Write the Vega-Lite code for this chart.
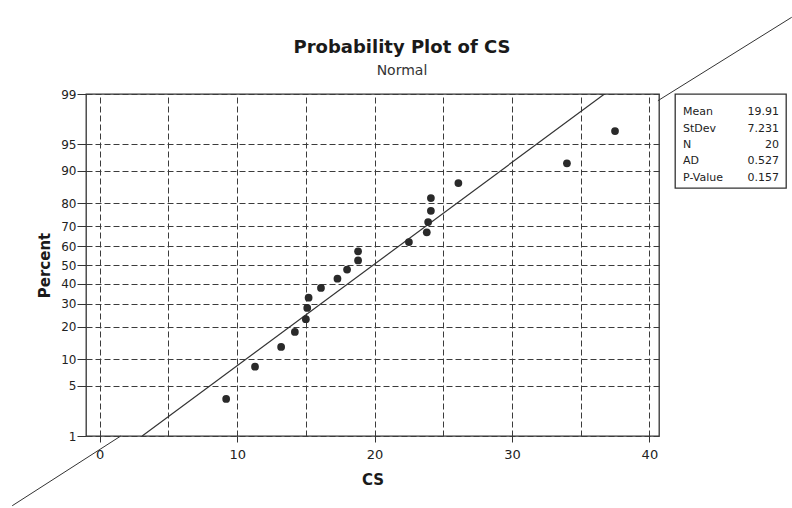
{
  "$schema": "https://vega.github.io/schema/vega-lite/v6.json",
  "background": "white",
  "padding": {"left": 9, "top": 14, "right": 0, "bottom": 0},
  "bounds": "flush",
  "spacing": 16,
  "title": {
    "text": "Probability Plot of CS",
    "subtitle": "Normal",
    "anchor": "middle",
    "offset": -63,
    "font": "DejaVu Sans",
    "fontSize": 18,
    "fontWeight": "bold",
    "color": "#1a1a1a",
    "subtitleFont": "DejaVu Sans",
    "subtitleFontSize": 14,
    "subtitleColor": "#333333",
    "subtitlePadding": 7
  },
  "datasets": {
    "points": [
      {"CS": 9.2, "Percent": 3.43, "Z": -1.8214},
      {"CS": 11.3, "Percent": 8.33, "Z": -1.383},
      {"CS": 13.2, "Percent": 13.24, "Z": -1.1152},
      {"CS": 14.2, "Percent": 18.14, "Z": -0.9104},
      {"CS": 15.0, "Percent": 23.04, "Z": -0.7375},
      {"CS": 15.1, "Percent": 27.94, "Z": -0.5846},
      {"CS": 15.2, "Percent": 32.84, "Z": -0.4443},
      {"CS": 16.1, "Percent": 37.75, "Z": -0.3122},
      {"CS": 17.3, "Percent": 42.65, "Z": -0.1854},
      {"CS": 18.0, "Percent": 47.55, "Z": -0.0615},
      {"CS": 18.8, "Percent": 52.45, "Z": 0.0615},
      {"CS": 18.8, "Percent": 57.35, "Z": 0.1854},
      {"CS": 22.5, "Percent": 62.25, "Z": 0.3122},
      {"CS": 23.8, "Percent": 67.16, "Z": 0.4443},
      {"CS": 23.9, "Percent": 72.06, "Z": 0.5846},
      {"CS": 24.1, "Percent": 76.96, "Z": 0.7375},
      {"CS": 24.1, "Percent": 81.86, "Z": 0.9104},
      {"CS": 26.1, "Percent": 86.76, "Z": 1.1152},
      {"CS": 34.0, "Percent": 91.67, "Z": 1.383},
      {"CS": 37.5, "Percent": 96.57, "Z": 1.8214}
    ],
    "fit": [
      {"CS": 3.088, "Z": -2.3263},
      {"CS": 36.732, "Z": 2.3263}
    ],
    "outline": [
      {"Seg": "a", "CS": -6.37, "Z": -3.275},
      {"Seg": "a", "CS": 1.53, "Z": -2.3263},
      {"Seg": "b", "CS": 40.62, "Z": 2.235},
      {"Seg": "b", "CS": 50.36, "Z": 3.37}
    ],
    "stats": [
      {"Stat": "Mean", "Value": "19.91"},
      {"Stat": "StDev", "Value": "7.231"},
      {"Stat": "N", "Value": "20"},
      {"Stat": "AD", "Value": "0.527"},
      {"Stat": "P-Value", "Value": "0.157"}
    ]
  },
  "hconcat": [
    {
      "width": 573,
      "height": 342,
      "resolve": {"axis": {"x": "independent"}},
      "layer": [
        {
          "data": {"name": "fit"},
          "mark": {"type": "line", "clip": true, "color": "#333333", "strokeWidth": 1.2},
          "encoding": {
            "x": {
              "field": "CS", "type": "quantitative",
              "scale": {"domain": [-1, 40.7], "nice": false, "zero": false},
              "axis": {
                "orient": "top", "values": [0, 5, 10, 15, 20, 25, 30, 35, 40], "tickCount": 20,
                "grid": true, "gridDash": [6, 3], "gridColor": "#3c3c3c", "gridOpacity": 1, "gridWidth": 1,
                "ticks": false, "labels": false, "domain": false, "title": null
              }
            },
            "y": {
              "field": "Z", "type": "quantitative",
              "scale": {"domain": [-2.3263, 2.3263], "nice": false, "zero": false},
              "axis": {
                "values": [-2.3263, -1.6449, -1.2816, -0.8416, -0.5244, -0.2533, 0, 0.2533, 0.5244, 0.8416, 1.2816, 1.6449, 2.3263],
                "tickCount": 20,
                "labelExpr": "round(cumulativeNormal(datum.value) * 100)",
                "grid": true, "gridDash": [6, 3], "gridColor": "#3c3c3c", "gridOpacity": 1, "gridWidth": 1,
                "tickSize": 9, "tickColor": "#333333", "labelPadding": 1, "domain": false,
                "labelFont": "DejaVu Sans", "labelFontSize": 12, "labelColor": "#222222", "labelOverlap": false,
                "title": "Percent", "titleFont": "DejaVu Sans", "titleFontSize": 15, "titleFontWeight": "bold",
                "titleColor": "#1a1a1a", "titlePadding": 8
              }
            }
          }
        },
        {
          "data": {"name": "points"},
          "mark": {"type": "circle", "size": 60, "opacity": 1, "color": "#2a2a2a"},
          "encoding": {
            "x": {
              "field": "CS", "type": "quantitative",
              "scale": {"domain": [-1, 40.7], "nice": false, "zero": false},
              "axis": {
                "orient": "bottom", "values": [0, 10, 20, 30, 40], "tickCount": 20, "grid": false, "domain": false,
                "tickSize": 6, "tickColor": "#333333", "labelPadding": 6, "labelFlush": false,
                "labelFont": "DejaVu Sans", "labelFontSize": 13, "labelColor": "#222222",
                "title": "CS", "titleFont": "DejaVu Sans", "titleFontSize": 15, "titleFontWeight": "bold",
                "titleColor": "#1a1a1a", "titlePadding": 11
              }
            },
            "y": {"field": "Z", "type": "quantitative"}
          }
        },
        {
          "data": {"name": "outline"},
          "mark": {"type": "line", "clip": false, "color": "#333333", "strokeWidth": 1},
          "encoding": {
            "x": {"field": "CS", "type": "quantitative", "axis": null},
            "y": {"field": "Z", "type": "quantitative"},
            "detail": {"field": "Seg"}
          }
        }
      ]
    },
    {
      "width": 111,
      "height": 94,
      "data": {"name": "stats"},
      "encoding": {
        "y": {"field": "Stat", "type": "ordinal", "sort": null, "axis": null, "scale": {"padding": 0.85}}
      },
      "layer": [
        {
          "mark": {"type": "text", "align": "left", "dx": 8, "dy": 4, "font": "DejaVu Sans", "fontSize": 11, "color": "#222222"},
          "encoding": {
            "x": {"datum": 0, "type": "quantitative", "scale": {"domain": [0, 1]}, "axis": null},
            "text": {"field": "Stat"}
          }
        },
        {
          "mark": {"type": "text", "align": "right", "dx": -7, "dy": 4, "font": "DejaVu Sans", "fontSize": 11, "color": "#222222"},
          "encoding": {
            "x": {"datum": 1, "type": "quantitative"},
            "text": {"field": "Value"}
          }
        }
      ]
    }
  ],
  "config": {
    "view": {"stroke": "#333333", "strokeWidth": 1.3},
    "font": "DejaVu Sans"
  }
}
